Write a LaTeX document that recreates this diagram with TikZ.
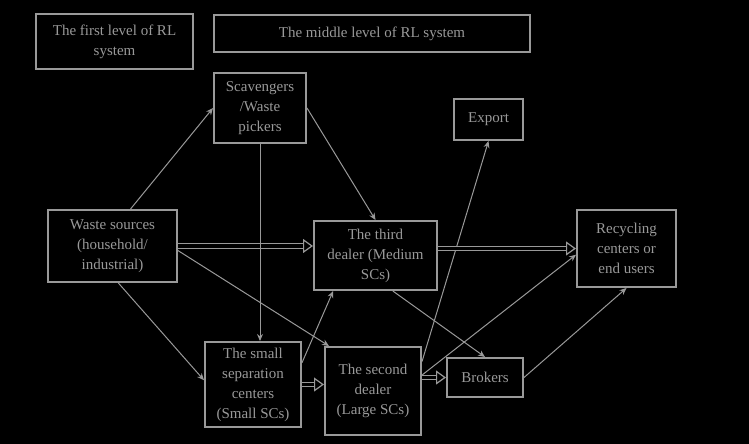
\documentclass[tikz,border=0pt]{standalone}
\usepackage{fontspec}
\setmainfont{Liberation Serif}
\usetikzlibrary{arrows.meta}
\definecolor{rlgray}{gray}{0.6}
\begin{document}
\begin{tikzpicture}[x=1pt,y=-1pt,
		box/.style={draw=rlgray,line width=2pt,fill=black,text=rlgray,align=center,inner sep=2pt,
			font=\fontsize{15}{20}\selectfont},
		flow/.style={draw=rlgray,line width=1pt,-{Stealth[length=7pt,width=6pt]}},
		bigflow/.style={draw=rlgray,line width=1.2pt,double=black,double distance=3.5pt,
			-{Triangle[open,length=10pt,width=14pt]}}]
		\fill[black] (0,0) rectangle (749,444);
		\useasboundingbox (0,0) rectangle (749,444);
		\node[box,minimum width=157,minimum height=55] (lvl1) at (114.5,41.5) {The first level of RL\\system};
		\node[box,minimum width=316,minimum height=37] (lvl2) at (372,33.5) {The middle level of RL system};
		\node[box,minimum width=92,minimum height=70] (scav) at (260,108) {Scavengers\\/Waste\\pickers};
		\node[box,minimum width=69,minimum height=41] (export) at (488.5,119.5) {Export};
		\node[box,minimum width=129,minimum height=72] (waste) at (112.5,246) {Waste sources\\(household/\\industrial)};
		\node[box,minimum width=123,minimum height=69] (third) at (375.5,255.5) {The third\\dealer (Medium\\SCs)};
		\node[box,minimum width=99,minimum height=77] (recyc) at (626.5,248.5) {Recycling\\centers or\\end users};
		\node[box,minimum width=96,minimum height=85] (small) at (253,384.5) {The small\\separation\\centers\\(Small SCs)};
		\node[box,minimum width=96,minimum height=88] (second) at (373,391) {The second\\dealer\\(Large SCs)};
		\node[box,minimum width=76,minimum height=39] (brokers) at (485,377.5) {Brokers};
		% first level
		\draw[flow] (waste.64) -- (scav.west);
		\draw[bigflow] (waste.east) -- (waste.east -| third.west);
		\draw[flow] (waste.-4) -- ([xshift=5pt]second.north west);
		\draw[flow] (waste.-81) -- (small.175);
		\draw[flow] (scav.south) -- (scav.south |- small.north);
		\draw[flow] (scav.east) -- (third.north);
		% middle level
		\draw[flow] (small.24) -- (third.220);
		\draw[bigflow] (small.east) -- (small.east -| second.west);
		\draw[flow] (second.31) -- (export.south);
		\draw[flow] (second.18) -- (recyc.187);
		\draw[bigflow] (second.east |- brokers.west) -- (brokers.west);
		\draw[flow] (third.-64) -- (brokers.north);
		\draw[bigflow] (third.east |- recyc.west) -- (recyc.west);
		\draw[flow] (brokers.east) -- (recyc.south);
	\end{tikzpicture}
\end{document}
